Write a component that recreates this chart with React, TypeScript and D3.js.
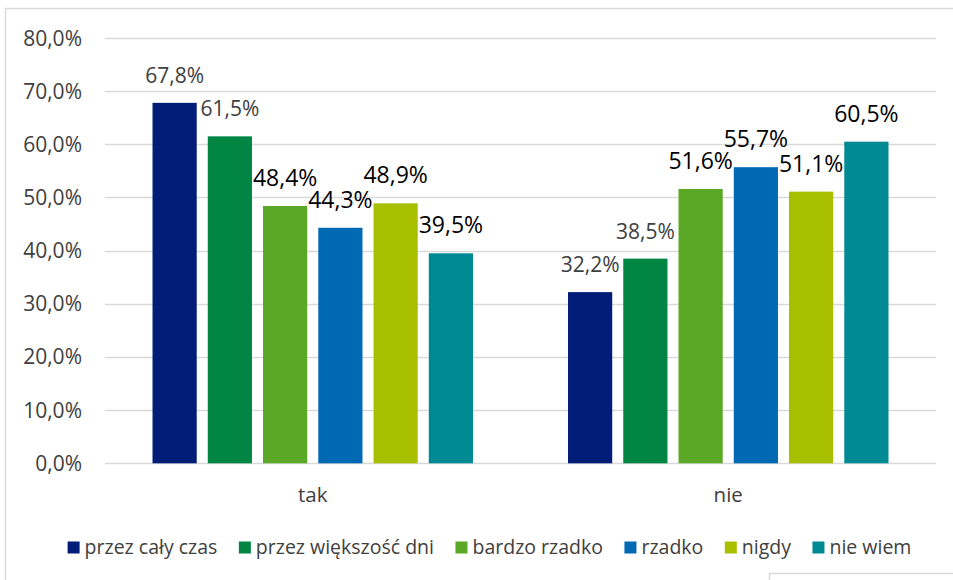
import React, { useEffect, useRef } from "react";
import * as d3 from "d3";

const categories = ["tak", "nie"];
const seriesNames = [
  "przez cały czas",
  "przez większość dni",
  "bardzo rzadko",
  "rzadko",
  "nigdy",
  "nie wiem",
];
const takValues = [67.8, 61.5, 48.4, 44.3, 48.9, 39.5];
const nieValues = [32.2, 38.5, 51.6, 55.7, 51.1, 60.5];
const yTicks = [0, 10, 20, 30, 40, 50, 60, 70, 80];
const colors = ["#021d77", "#008542", "#5ba726", "#0069b4", "#a8bf00", "#008a93"];

const FONT = "'Open Sans', 'Noto Sans', sans-serif";

export default function App() {
  const ref = useRef<SVGSVGElement | null>(null);

  useEffect(() => {
    const width = 953;
    const height = 580;
    const margin = { left: 105, right: 17, top: 38, bottom: 116 };
    const svg = d3.select(ref.current);
    svg.selectAll("*").remove();

    svg.append("rect").attr("width", width).attr("height", height).attr("fill", "#fff");

    // outer chart border (runs off the right side)
    svg.append("rect")
      .attr("x", 5.5).attr("y", 8.5)
      .attr("width", 960).attr("height", 600)
      .attr("fill", "none").attr("stroke", "#d9d9d9").attr("stroke-width", 1.5);
    // small box peeking at bottom right
    svg.append("rect")
      .attr("x", 769.5).attr("y", 573.5)
      .attr("width", 200).attr("height", 40)
      .attr("fill", "#fff").attr("stroke", "#d9d9d9").attr("stroke-width", 1.5);

    const data = categories.map((c, i) => ({
      category: c,
      values: i === 0 ? takValues : nieValues,
    }));

    const y = d3.scaleLinear()
      .domain([0, 80])
      .range([height - margin.bottom - 0.7, margin.top]);

    const x0 = d3.scaleBand()
      .domain(categories)
      .range([margin.left, width - margin.right])
      .padding(0);

    const x1 = d3.scaleBand()
      .domain(seriesNames)
      .range([0, x0.bandwidth()])
      .paddingInner(0.2)
      .paddingOuter(0.86);

    const fmt = (v: number) => d3.format(".1f")(v).replace(".", ",") + "%";

    // grid
    svg.append("g")
      .selectAll("line")
      .data(yTicks)
      .join("line")
      .attr("x1", margin.left)
      .attr("x2", width - margin.right)
      .attr("y1", (d) => Math.round(y(d)) + 0.5)
      .attr("y2", (d) => Math.round(y(d)) + 0.5)
      .attr("stroke", "#d9d9d9")
      .attr("stroke-width", 1.5);

    // y axis labels
    svg.append("g")
      .selectAll("text")
      .data(yTicks)
      .join("text")
      .attr("x", 82)
      .attr("y", (d) => y(d) + 7.5)
      .attr("text-anchor", "end")
      .attr("font-family", FONT)
      .attr("font-size", 21)
      .attr("fill", "#404040")
      .text((d) => fmt(d));

    // bars
    const groups = svg.append("g")
      .selectAll("g")
      .data(data)
      .join("g")
      .attr("transform", (d) => `translate(${x0(d.category)},0)`);

    groups.selectAll("rect")
      .data((d) => d.values.map((v, i) => ({ v, i })))
      .join("rect")
      .attr("x", (d) => x1(seriesNames[d.i])!)
      .attr("y", (d) => y(d.v))
      .attr("width", x1.bandwidth())
      .attr("height", (d) => y(0) - y(d.v))
      .attr("fill", (d) => colors[d.i]);

    groups.selectAll("text")
      .data((d) => d.values.map((v, i) => ({ v, i })))
      .join("text")
      .attr("x", (d) => x1(seriesNames[d.i])! + x1.bandwidth() / 2)
      .attr("y", (d) => y(d.v) - 20)
      .attr("text-anchor", "middle")
      .attr("font-family", FONT)
      .attr("font-size", (d) => (d.i < 2 ? 21 : 23))
      .attr("fill", (d) => (d.i < 2 ? "#404040" : "#000"))
      .text((d) => fmt(d.v));

    // category labels
    svg.append("g")
      .selectAll("text")
      .data(categories)
      .join("text")
      .attr("x", (d) => x0(d)! + x0.bandwidth() / 2)
      .attr("y", 502)
      .attr("text-anchor", "middle")
      .attr("font-family", FONT)
      .attr("font-size", 20.5)
      .attr("fill", "#404040")
      .text((d) => d);

    // legend
    const legend = svg.append("g");
    const items = legend.selectAll("g")
      .data(seriesNames)
      .join("g");
    items.append("rect")
      .attr("y", 541.5)
      .attr("width", 12)
      .attr("height", 12)
      .attr("fill", (_, i) => colors[i]);
    items.append("text")
      .attr("x", 17)
      .attr("y", 553.5)
      .attr("font-family", FONT)
      .attr("font-size", 19.5)
      .attr("fill", "#404040")
      .text((d) => d);

    const widths: number[] = [];
    items.each(function () {
      const t = d3.select(this).select("text").node() as SVGTextElement;
      widths.push(17 + t.getComputedTextLength());
    });
    const gap = 21.5;
    const total = d3.sum(widths) + gap * (widths.length - 1);
    let cx = 489.5 - total / 2;
    items.attr("transform", (_, i) => {
      const tx = cx;
      cx += widths[i] + gap;
      return `translate(${tx},0)`;
    });
  }, []);

  return (
    <svg
      ref={ref}
      width={953}
      height={580}
      style={{ position: "absolute", left: 0, top: 0, display: "block" }}
    />
  );
}
